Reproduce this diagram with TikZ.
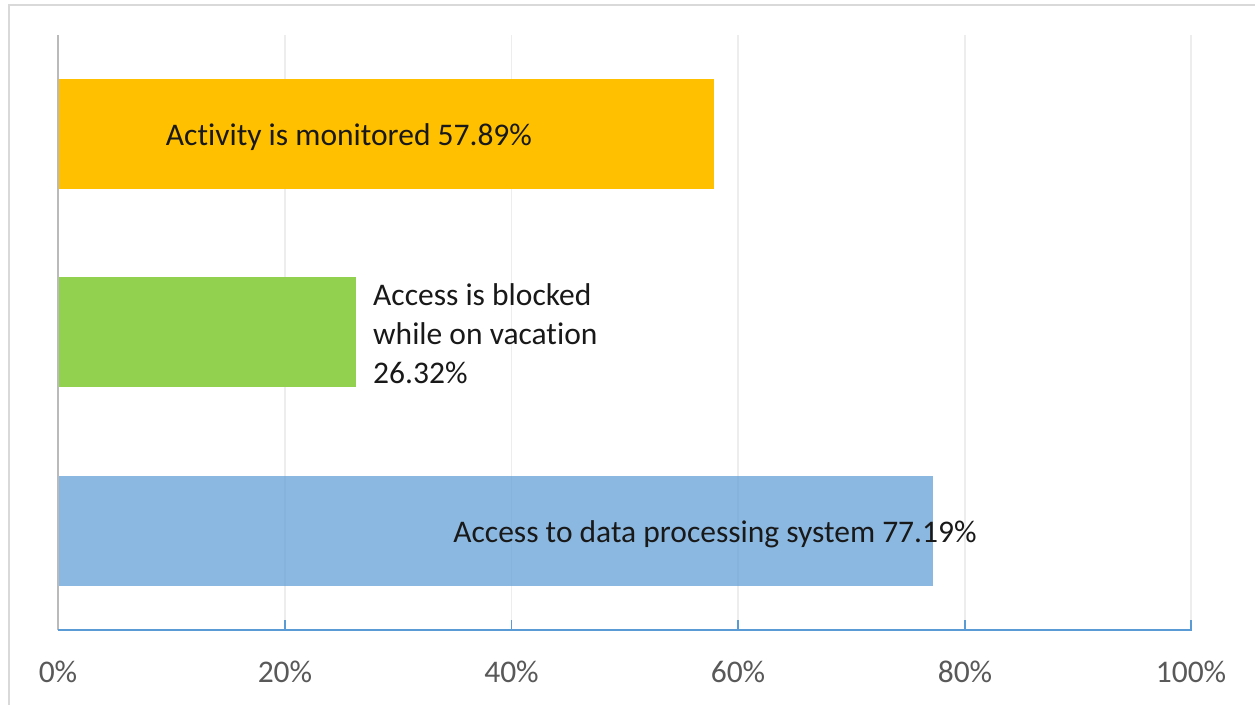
\documentclass[tikz,border=0pt]{standalone}
\usepackage{fontspec}
\setmainfont{Carlito}[Ligatures=NoCommon]
\begin{document}
\begin{tikzpicture}[x=1pt,y=-1pt,
  frameline/.style={draw=black!15,line width=2pt},
  gridline/.style={draw=black!7,line width=1.8pt},
  vaxis/.style={draw=black!27,line width=2.8pt},
  haxis/.style={draw=axisblue,line width=1.8pt},
  bar/.style={draw=none},
  barlabel/.style={inner sep=0pt,text=black!90,font=\fontsize{31.5}{39}\selectfont},
  ticklabel/.style={inner sep=0pt,text=tickgray,font=\fontsize{31.5}{39}\selectfont,anchor=base}]
\definecolor{axisblue}{HTML}{5B9BD5}
\definecolor{tickgray}{HTML}{595959}
\definecolor{barorange}{HTML}{FFC000}
\definecolor{bargreen}{HTML}{92D050}
\useasboundingbox (0,0) rectangle (1255,704);
\fill[white] (0,0) rectangle (1255,704);
% frame
\draw[frameline] (9,706) -- (9,5) -- (1257,5);
% gridlines
\foreach \gx in {285,511.5,738,965,1191}{
  \draw[gridline] (\gx,35) -- (\gx,629);
}
% bars
\fill[bar,barorange] (58,79) rectangle (714,189);
\fill[bar,bargreen] (58,277) rectangle (356,387);
\fill[bar,fill=axisblue,fill opacity=0.7] (58,476) rectangle (933,586);
% axes
\coordinate (o) at (58,630);
\coordinate (top) at (58,35);
\coordinate (xend) at (1191,630);
\draw[vaxis] (top) -- (o);
\draw[haxis] (o) -- (xend);
\foreach \gx in {285,511.5,738,965,1191}{
  \draw[haxis] (\gx,620) -- (\gx,630.9);
}
% tick labels
\node[ticklabel] (t0) at (58,682) {0\%};
\node[ticklabel] (t20) at (285,682) {20\%};
\node[ticklabel] (t40) at (511.5,682) {40\%};
\node[ticklabel] (t60) at (738,682) {60\%};
\node[ticklabel] (t80) at (965,682) {80\%};
\node[ticklabel] (t100) at (1191,682) {100\%};
% bar labels
\node[barlabel,anchor=base] (l1) at (349,145) {Activity is monitored 57.89\%};
\node[barlabel,anchor=base west,align=left] (l2) at (373,383) {Access is blocked\\while on vacation\\26.32\%};
\node[barlabel,anchor=base] (l3) at (715,542) {Access to data processing system 77.19\%};
\end{tikzpicture}
\end{document}
